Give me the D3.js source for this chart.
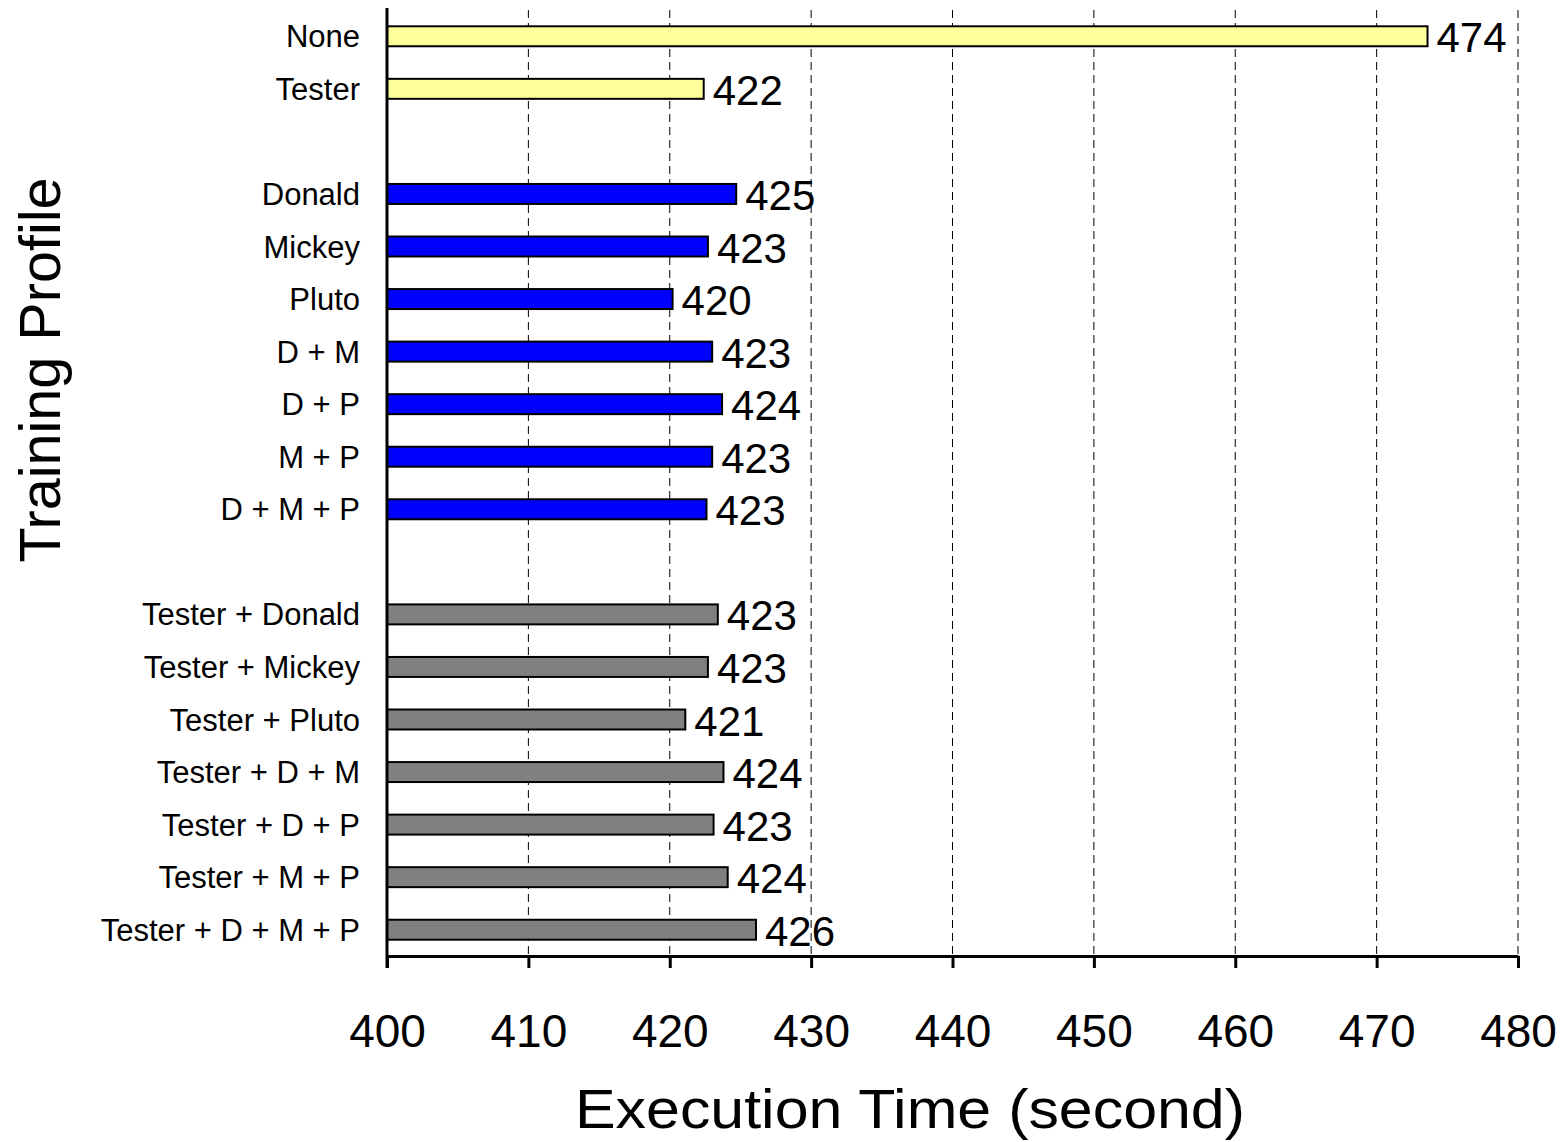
<!DOCTYPE html>
<html>
<head>
<meta charset="utf-8">
<script src="https://cdn.jsdelivr.net/npm/d3@7/dist/d3.min.js"></script>
<style>
  body { margin: 0; background: #fff; }
  svg { display: block; font-family: "Liberation Sans", Arial, sans-serif; }
</style>
</head>
<body>
<svg id="chart" width="1568" height="1142"></svg>
<script>
// Training profiles, top to bottom ("" = empty slot between groups)
const profiles = [
  "None", "Tester", "",
  "Donald", "Mickey", "Pluto", "D + M", "D + P", "M + P", "D + M + P", "",
  "Tester + Donald", "Tester + Mickey", "Tester + Pluto", "Tester + D + M",
  "Tester + D + P", "Tester + M + P", "Tester + D + M + P"
];
// execution time in seconds (null for empty slots)
const times = [
  473.6, 422.4, null,
  424.7, 422.7, 420.2, 423.0, 423.7, 423.0, 422.6, null,
  423.4, 422.7, 421.1, 423.8, 423.1, 424.1, 426.1
];
const groups = [
  "base", "base", null,
  "user", "user", "user", "user", "user", "user", "user", null,
  "mixed", "mixed", "mixed", "mixed", "mixed", "mixed", "mixed"
];
const xTicks = [400, 410, 420, 430, 440, 450, 460, 470, 480];

const fills = { base: "#ffff99", user: "#0000ff", mixed: "#808080" };

const svg = d3.select("#chart");
const plotLeft = 387, plotRight = 1518, plotTop = 10, plotBottom = 956;

const rows = profiles.map((p, i) => ({ key: "r" + i, name: p, value: times[i], group: groups[i] }));

const x = d3.scaleLinear().domain([400, 480]).range([plotLeft, plotRight]);
const y = d3.scaleBand()
  .domain(rows.map(d => d.key))
  .range([plotTop, plotBottom])
  .paddingInner(0.62)
  .paddingOuter(0.31);

// dashed grid lines
svg.append("g")
  .selectAll("line")
  .data(xTicks.slice(1))
  .join("line")
  .attr("x1", d => x(d)).attr("x2", d => x(d))
  .attr("y1", plotTop).attr("y2", plotBottom)
  .attr("stroke", "#000")
  .attr("stroke-width", 1)
  .attr("stroke-dasharray", "8,5");

const bars = rows.filter(d => d.value !== null);

// bars
svg.append("g")
  .selectAll("rect")
  .data(bars)
  .join("rect")
  .attr("x", x(400))
  .attr("y", d => y(d.key))
  .attr("width", d => x(d.value) - x(400))
  .attr("height", y.bandwidth())
  .attr("fill", d => fills[d.group])
  .attr("stroke", "#000")
  .attr("stroke-width", 2);

// value labels
svg.append("g")
  .selectAll("text")
  .data(bars)
  .join("text")
  .attr("x", d => x(d.value) + 9)
  .attr("y", d => y(d.key) + y.bandwidth() / 2 + 16)
  .attr("font-size", 42)
  .text(d => d3.format(".0f")(d.value));

// category labels
svg.append("g")
  .selectAll("text")
  .data(rows.filter(d => d.name))
  .join("text")
  .attr("x", plotLeft - 27)
  .attr("y", d => y(d.key) + y.bandwidth() / 2 + 11)
  .attr("text-anchor", "end")
  .attr("font-size", 31)
  .text(d => d.name);

// x axis
const xAxis = svg.append("g")
  .attr("transform", `translate(0,${plotBottom})`)
  .call(d3.axisBottom(x).tickValues(xTicks).tickSize(12).tickPadding(46).tickSizeOuter(0));
xAxis.select(".domain").attr("stroke-width", 3);
xAxis.selectAll(".tick line").attr("stroke-width", 3);
xAxis.selectAll(".tick text")
  .attr("font-size", 46)
  .attr("font-family", "Liberation Sans, Arial, sans-serif")
  .attr("fill", "#000");

// y axis line
svg.append("line")
  .attr("x1", plotLeft).attr("x2", plotLeft)
  .attr("y1", 8).attr("y2", plotBottom + 12)
  .attr("stroke", "#000")
  .attr("stroke-width", 3);

// axis titles
svg.append("text")
  .attr("x", 910)
  .attr("y", 1128)
  .attr("text-anchor", "middle")
  .attr("font-size", 56)
  .attr("textLength", 670)
  .attr("lengthAdjust", "spacingAndGlyphs")
  .text("Execution Time (second)");

svg.append("text")
  .attr("transform", `translate(60,370) rotate(-90)`)
  .attr("text-anchor", "middle")
  .attr("font-size", 57)
  .attr("textLength", 385)
  .attr("lengthAdjust", "spacingAndGlyphs")
  .text("Training Profile");
</script>
</body>
</html>
